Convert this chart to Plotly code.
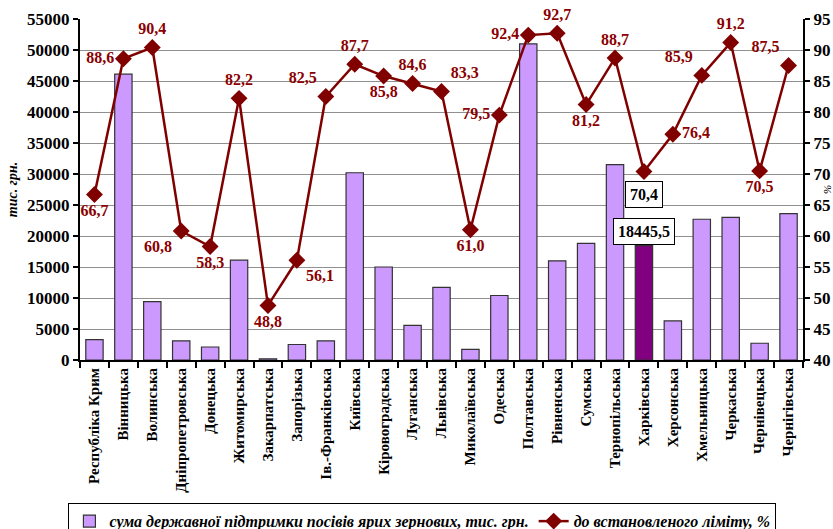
import plotly.graph_objects as go

regions = ["Республіка Крим", "Вінницька", "Волинська", "Дніпропетровська", "Донецька",
           "Житомирська", "Закарпатська", "Запорізька", "Ів.-Франківська", "Київська",
           "Кіровоградська", "Луганська", "Львівська", "Миколаївська", "Одеська",
           "Полтавська", "Рівненська", "Сумська", "Тернопільська", "Харківська",
           "Херсонська", "Хмельницька", "Черкаська", "Чернівецька", "Чернігівська"]
support = [3300, 46100, 9400, 3100, 2100, 16100, 200, 2500, 3100, 30200,
           15000, 5600, 11700, 1700, 10400, 51000, 16000, 18800, 31500, 18445.5,
           6300, 22700, 23000, 2700, 23600]
limit_pct = [66.7, 88.6, 90.4, 60.8, 58.3, 82.2, 48.8, 56.1, 82.5, 87.7,
             85.8, 84.6, 83.3, 61.0, 79.5, 92.4, 92.7, 81.2, 88.7, 70.4,
             76.4, 85.9, 91.2, 70.5, 87.5]
highlight = "Харківська"

label_pos = ["bottom center", "middle left", "top center", "bottom left", "bottom center",
             "top center", "bottom center", "bottom right", "top left", "top center",
             "bottom center", "top center", "top right", "bottom center", "middle left",
             "middle left", "top center", "bottom center", "top center", "bottom center",
             "middle right", "top left", "top center", "bottom center", "top left"]

FONT = "Liberation Serif"
hi_idx = regions.index(highlight)
bar_colors = ["#800080" if r == highlight else "#CC99FF" for r in regions]
line_text = ["" if r == highlight else f"{v:.1f}".replace(".", ",") for r, v in zip(regions, limit_pct)]

fig = go.Figure()
fig.add_trace(go.Bar(
    x=regions, y=support, name="сума державної підтримки посівів ярих зернових, тис. грн.",
    marker=dict(color=bar_colors, line=dict(color="#333333", width=1.2)),
))
fig.add_trace(go.Scatter(
    x=regions, y=limit_pct, yaxis="y2", name="до встановленого ліміту, %",
    mode="lines+markers+text", text=line_text, textposition=label_pos,
    textfont=dict(family=FONT, size=16, color="#8B0000", weight="bold"),
    line=dict(color="#800000", width=2.5),
    marker=dict(symbol="diamond", size=13, color="#800000"),
    cliponaxis=False,
))

fig.add_annotation(x=highlight, y=support[hi_idx], xref="x", yref="y",
                   text=f"{support[hi_idx]:.1f}".replace(".", ","), showarrow=False,
                   yanchor="bottom", yshift=1,
                   font=dict(family=FONT, size=16, color="black", weight="bold"),
                   bgcolor="white", bordercolor="black", borderwidth=1, borderpad=4)
fig.add_annotation(x=highlight, y=limit_pct[hi_idx], xref="x", yref="y2",
                   text=f"{limit_pct[hi_idx]:.1f}".replace(".", ","), showarrow=False,
                   yanchor="top", yshift=-9,
                   font=dict(family=FONT, size=16, color="black", weight="bold"),
                   bgcolor="white", bordercolor="black", borderwidth=1, borderpad=4)

fig.update_layout(
    width=833, height=529,
    margin=dict(l=80, r=30, t=19, b=169, autoexpand=False),
    paper_bgcolor="white", plot_bgcolor="white",
    font=dict(family=FONT, size=14, color="black"),
    bargap=0.4,
    showlegend=True,
    legend=dict(orientation="h", x=-0.016, xanchor="left", y=-0.42, yanchor="top",
                bordercolor="black", borderwidth=1, itemwidth=30, tracegroupgap=0,
                font=dict(family=FONT, size=16, color="black", style="italic", weight="bold")),
    xaxis=dict(type="category", range=[-0.5, len(regions) - 0.5], tickangle=-90,
               showline=True, linecolor="black", linewidth=2,
               ticks="outside", tickson="boundaries", ticklen=6, tickwidth=2, tickcolor="black",
               tickfont=dict(family=FONT, size=15, weight="bold"), showgrid=False,
               automargin=False),
    yaxis=dict(range=[0, 55000], dtick=5000, tickformat="d", showline=True, linecolor="black",
               linewidth=2, ticks="outside", ticklen=5, tickwidth=2, tickcolor="black",
               gridcolor="#909090", gridwidth=1, automargin=False,
               tickfont=dict(family=FONT, size=17, weight="bold"),
               title=dict(text="тис. грн.", standoff=6,
                          font=dict(family=FONT, size=14, style="italic", weight="bold"))),
    yaxis2=dict(range=[40, 95], dtick=5, overlaying="y", side="right", showline=True,
                linecolor="black", linewidth=2, ticks="outside", ticklen=5, tickwidth=2,
                tickcolor="black", showgrid=False, automargin=False,
                tickfont=dict(family=FONT, size=17, weight="bold"),
                title=dict(text="%", standoff=0,
                           font=dict(family=FONT, size=11, style="italic"))),
)

fig.write_html("out.html", config={"displayModeBar": False},
               post_script="document.body.style.margin='0';document.body.style.overflow='hidden';")
